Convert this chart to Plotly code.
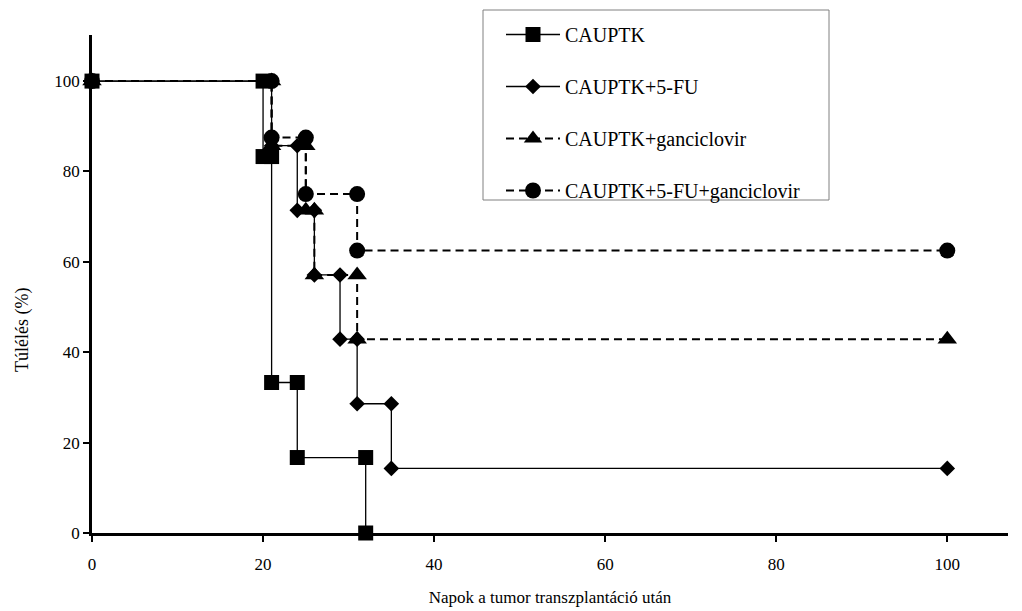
import plotly.graph_objects as go

# Kaplan-Meier survival data (days after tumor transplantation, survival %)
names = ["CAUPTK", "CAUPTK+5-FU", "CAUPTK+ganciclovir", "CAUPTK+5-FU+ganciclovir"]

x_caup = [0, 20, 20, 21, 21, 24, 24, 32, 32]
y_caup = [100, 100, 83.3, 83.3, 33.3, 33.3, 16.7, 16.7, 0]

x_fu = [0, 21, 21, 24, 24, 26, 26, 29, 29, 31, 31, 35, 35, 100]
y_fu = [100, 100, 85.7, 85.7, 71.4, 71.4, 57.1, 57.1, 42.9, 42.9, 28.6, 28.6, 14.3, 14.3]

x_gan = [0, 21, 21, 25, 25, 26, 26, 31, 31, 100]
y_gan = [100, 100, 85.7, 85.7, 71.4, 71.4, 57.1, 57.1, 42.9, 42.9]

x_both = [0, 21, 21, 25, 25, 31, 31, 100]
y_both = [100, 100, 87.5, 87.5, 75, 75, 62.5, 62.5]

x_ticks = [0, 20, 40, 60, 80, 100]
y_ticks = [0, 20, 40, 60, 80, 100]

x_title = "Napok a tumor transzplantáció után"
y_title = "Túlélés (%)"

FONT = "Liberation Serif, Times New Roman, serif"

series = [
    (x_caup, y_caup, "square", 15, "solid", 1.3),
    (x_fu, y_fu, "diamond", 12, "solid", 1.3),
    (x_gan, y_gan, "triangle-up", 17, "8px,5px", 2),
    (x_both, y_both, "circle", 16, "8px,5px", 2),
]

fig = go.Figure()
for i, (xs, ys, sym, sz, dash, lw) in enumerate(series):
    fig.add_trace(go.Scatter(
        x=xs, y=ys, mode="lines+markers", name=names[i],
        legendgroup=f"g{i}",
        line=dict(color="black", width=lw, dash=dash),
        marker=dict(symbol=sym, size=sz, color="black", line=dict(width=0)),
        cliponaxis=False,
    ))

L, R, T, B = 92, 14, 35, 78
W, H = 1022, 611
pw = W - L - R
ph = H - T - B

def px_x(p):
    return (p - L) / pw

def px_y(p):
    return 1 - (p - T) / ph

fig.update_layout(
    width=W, height=H,
    margin=dict(l=L, r=R, t=T, b=B),
    paper_bgcolor="white", plot_bgcolor="white",
    font=dict(family=FONT, color="black", size=16),
    showlegend=True,
    legend=dict(
        x=px_x(501), y=px_y(15), xref="paper", yref="paper",
        xanchor="left", yanchor="top",
        borderwidth=0, bgcolor="rgba(0,0,0,0)",
        font=dict(family=FONT, size=20, color="black"),
        tracegroupgap=23, itemwidth=54,
    ),
    shapes=[dict(
        type="rect", xref="paper", yref="paper",
        x0=px_x(483), x1=px_x(829), y0=px_y(10), y1=px_y(200),
        line=dict(color="#808080", width=1), fillcolor="white", layer="below",
    )],
    annotations=[dict(
        text=y_title, textangle=-90, showarrow=False,
        xref="paper", yref="paper", x=px_x(22), y=px_y(330),
        xanchor="center", yanchor="middle",
        font=dict(family=FONT, size=18, color="black"),
    )],
    xaxis=dict(
        range=[0, 107.1], tickvals=x_ticks, ticktext=[str(v) for v in x_ticks],
        showline=True, linecolor="black", linewidth=2.5,
        ticks="outside", ticklen=6, tickwidth=2, tickcolor="black",
        showgrid=False, zeroline=False, ticklabelstandoff=8,
        automargin=False,
        tickfont=dict(family=FONT, size=17),
        title=dict(text=x_title, font=dict(family=FONT, size=17), standoff=18),
    ),
    yaxis=dict(
        range=[0, 110.2], tickvals=y_ticks, ticktext=[str(v) for v in y_ticks],
        showline=True, linecolor="black", linewidth=2.5,
        ticks="outside", ticklen=6, tickwidth=2, tickcolor="black",
        showgrid=False, zeroline=False, automargin=False,
        tickfont=dict(family=FONT, size=17),
    ),
)

fig.write_html("out.html")
